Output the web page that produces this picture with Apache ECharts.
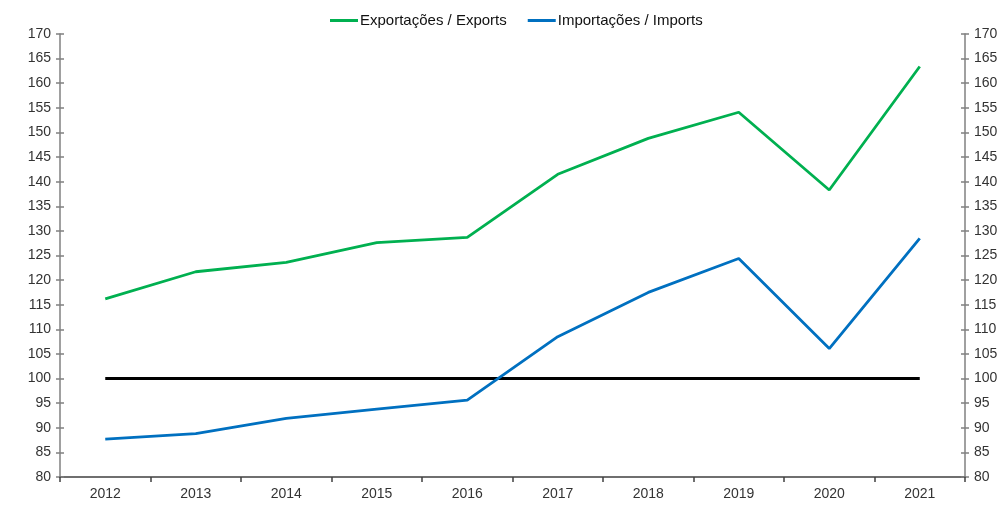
<!DOCTYPE html>
<html>
<head>
<meta charset="utf-8">
<script src="https://cdn.jsdelivr.net/npm/echarts@6/dist/echarts.min.js"></script>
<style>
  html, body { margin: 0; padding: 0; background: #fff; }
  #chart { width: 1004px; height: 506px; }
</style>
</head>
<body>
<div id="chart"></div>
<script>
var years = ['2012', '2013', '2014', '2015', '2016', '2017', '2018', '2019', '2020', '2021'];
var exportsIdx = [116.2, 121.7, 123.6, 127.6, 128.7, 141.5, 148.8, 154.1, 138.3, 163.4];
var importsIdx = [87.7, 88.8, 91.9, 93.8, 95.6, 108.5, 117.5, 124.4, 106.1, 128.5];
var baseLine = [100, 100, 100, 100, 100, 100, 100, 100, 100, 100];

var labelFont = {color: '#333333', fontSize: 14, fontFamily: 'Liberation Sans, Arial, sans-serif'};

// value axis helper, the extra ones only carry the inner half of the tick
function valueAxis(pos, showLabels, inside) {
    return {
        type: 'value',
        position: pos,
        min: 80,
        max: 170,
        interval: 5,
        splitLine: {show: false},
        axisLine: {show: showLabels, lineStyle: {color: '#808080', width: 1.5}},
        axisTick: {show: true, inside: inside, length: 4, lineStyle: {color: '#808080', width: 1.5}},
        axisLabel: Object.assign({show: showLabels, margin: 9}, labelFont)
    };
}

var myChart = echarts.init(document.getElementById('chart'));
var option = {
    animation: false,
    legend: {
        top: 8,
        left: 325,
        itemWidth: 28,
        itemHeight: 3,
        itemGap: 21,
        icon: 'rect',
        textStyle: {color: '#111111', fontSize: 15, fontFamily: 'Liberation Sans, Arial, sans-serif', padding: [0, 0, 0, -3]},
        data: ['Exportações / Exports', 'Importações / Imports']
    },
    grid: {left: 60, right: 39, top: 34, bottom: 29, containLabel: false},
    xAxis: {
        type: 'category',
        data: years,
        boundaryGap: true,
        axisLine: {lineStyle: {color: '#404040', width: 1.5}},
        axisTick: {show: true, length: 5, lineStyle: {color: '#404040', width: 1.5}},
        axisLabel: Object.assign({margin: 10}, labelFont)
    },
    yAxis: [
        valueAxis('left', true, false),
        valueAxis('right', true, false),
        valueAxis('left', false, true),
        valueAxis('right', false, true)
    ],
    series: [
        {
            name: 'Exportações / Exports',
            type: 'line',
            data: exportsIdx,
            symbol: 'none',
            lineStyle: {color: '#00B050', width: 2.8},
            itemStyle: {color: '#00B050'}
        },
        {
            name: 'Importações / Imports',
            type: 'line',
            data: importsIdx,
            symbol: 'none',
            lineStyle: {color: '#0070C0', width: 2.8},
            itemStyle: {color: '#0070C0'}
        },
        {
            name: 'base',
            type: 'line',
            data: baseLine,
            symbol: 'none',
            z: 1,
            lineStyle: {color: '#000000', width: 3},
            itemStyle: {color: '#000000'}
        }
    ]
};
myChart.setOption(option, true);
</script>
</body>
</html>
